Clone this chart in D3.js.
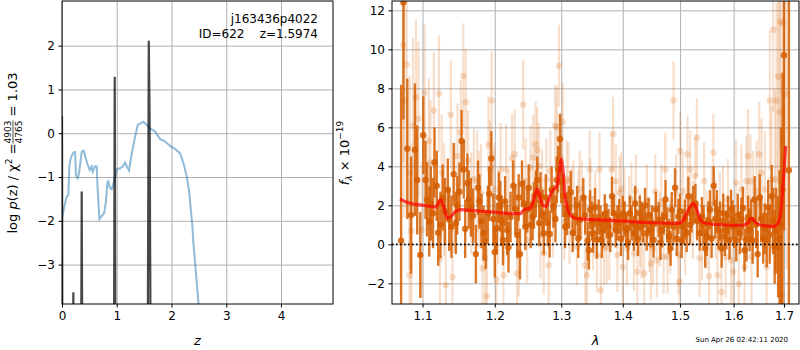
<!DOCTYPE html>
<html><head><meta charset="utf-8">
<script src="https://cdn.jsdelivr.net/npm/d3@7"></script>
<style>
body{margin:0;background:#fff}
text{font-family:"DejaVu Sans",sans-serif}
</style></head><body><div id="fig"></div>
<script>
// ---- left panel data: redshift pdf (black) and scaled chi2 curve (blue)
var pzZ   = [0, 0.012, 0.19, 0.207, 0.224, 0.34, 0.36, 0.38, 0.942, 0.963, 0.984, 1.55, 1.566, 1.585, 1.6, 1.618, 1.64, 1.66, 4.95]
var pzLog = [0.39, -9, -9, -3.63, -9, -9, -1.33, -9, -9, 1.29, -9, -9, -5, 2.11, 0.4, -5, -7, -9, -9]

var chiZ = [0, 0.006, 0.042, 0.085, 0.115, 0.134, 0.159, 0.207, 0.238, 0.256, 0.287, 0.311, 0.36, 0.397, 0.433, 0.47, 0.506, 0.543, 0.561, 0.603, 0.634, 0.652, 0.683, 0.726, 0.768, 0.799, 0.829, 0.847, 0.878, 0.909, 0.957, 1.006, 1.06, 1.11, 1.152, 1.183, 1.225, 1.274, 1.335, 1.384, 1.444, 1.486, 1.53, 1.609, 1.7, 1.79, 1.883, 1.975, 2.066, 2.157, 2.218, 2.279, 2.327, 2.353, 2.382, 2.4, 2.431, 2.462, 2.492, 2.52]
var chiVal = [-2.05, -1.9, -1.68, -1.45, -1.41, -0.76, -0.57, -0.44, -0.43, -0.97, -1.03, -0.91, -0.42, -0.40, -0.57, -0.72, -0.84, -0.76, -0.88, -0.75, -0.76, -1.29, -1.96, -1.89, -1.83, -1.6, -1.13, -1.1, -1.26, -1.28, -1.07, -0.82, -0.80, -0.76, -0.67, -0.76, -0.85, -0.46, -0.08, 0.19, 0.23, 0.26, 0.21, 0.11, 0.04, -0.13, -0.19, -0.29, -0.36, -0.46, -0.68, -0.99, -1.37, -1.75, -2.13, -2.51, -2.97, -3.42, -3.88, -4.3]

var zTicks = [0, 1, 2, 3, 4]
var pTicks = [-3, -2, -1, 0, 1, 2]

// ---- right panel data: [wavelength, flux, error]
var darkPts = [
[1.072,0.19,8.0],[1.075,12.4,6.0],[1.080,4.9,3.6],[1.085,1.5,3.0],[1.090,4.85,3.4],[1.093,3.3,2.8],
[1.097,-0.55,2.2],[1.101,5.6,2.0],[1.104,3.3,2.0],[1.106,2.3,1.9],[1.109,1.17,1.8],[1.111,2.1,1.9],
[1.114,1.6,1.8],[1.116,4.2,1.8],[1.119,3.0,1.8],[1.121,0.6,1.7],[1.124,1.0,1.7],[1.127,2.4,1.7],
[1.130,1.7,1.7],[1.134,2.8,1.6],[1.136,1.26,1.6],[1.139,0.9,1.6],[1.142,3.6,1.6],[1.145,1.1,1.6],
[1.147,2.0,1.5],[1.150,2.7,1.5],[1.153,5.3,1.6],[1.156,3.85,1.5],[1.158,0.8,1.5],[1.161,3.15,1.5],
[1.163,2.3,1.5],[1.166,1.9,1.5],[1.169,1.47,1.4],[1.173,-0.5,1.5],[1.176,2.9,1.4],[1.178,2.2,1.4],
[1.181,1.2,1.4],[1.184,0.57,1.4],[1.187,0.14,1.4],[1.190,1.6,1.4],[1.192,2.6,1.4],[1.195,4.4,1.4],
[1.198,1.3,1.3],[1.200,-0.4,1.3],[1.203,0.83,1.3],[1.206,2.4,1.3],[1.208,1.95,1.3],[1.210,1.2,1.3],
[1.212,0.22,1.3],[1.215,2.2,1.3],[1.218,0.74,1.3],[1.220,-0.15,1.3],[1.223,1.4,1.3],[1.227,3.0,1.3],
[1.230,1.8,1.3],[1.233,0.48,1.2],[1.235,2.4,1.2],[1.237,-0.5,1.3],[1.240,3.1,1.2],[1.243,2.1,1.2],
[1.245,0.9,1.2],[1.248,1.8,1.2],[1.250,2.9,1.2],[1.253,1.0,1.2],[1.256,1.4,1.2],[1.258,2.0,1.2],
[1.261,2.6,1.2],[1.263,3.3,1.2],[1.266,1.1,1.2],[1.268,2.5,1.2],[1.271,1.6,1.2],[1.273,0.57,1.1],
[1.276,2.4,1.2],[1.279,1.1,1.2],[1.282,0.53,1.2],[1.285,2.8,1.2],[1.288,1.95,1.1],[1.291,1.3,1.2],
[1.293,3.3,1.2],[1.295,3.85,1.2],[1.298,5.4,1.3],[1.300,3.2,1.1],[1.303,2.5,1.1],[1.306,0.9,1.1],
[1.309,1.57,1.1],[1.312,1.9,1.1],[1.315,2.67,1.1],[1.318,0.6,1.0],[1.322,1.43,1.0],[1.325,2.0,1.0],
[1.327,0.3,1.0],[1.330,1.26,1.0],[1.335,2.4,1.0],[1.338,1.5,1.0],[1.342,0.17,1.0],[1.344,-0.3,1.0],
[1.346,1.78,1.0],[1.349,1.2,1.0],[1.351,0.57,1.0],[1.354,1.9,1.0],[1.357,0.26,1.0],[1.360,1.4,0.9],
[1.363,1.09,0.9],[1.365,0.2,0.9],[1.367,0.74,0.9],[1.370,1.57,1.0],[1.373,1.2,0.9],[1.376,0.91,0.9],
[1.379,0.5,0.9],[1.382,2.47,1.0],[1.385,1.6,0.9],[1.388,0.74,0.9],[1.391,1.1,0.9],[1.394,1.43,0.9],
[1.397,0.3,0.9],[1.400,1.6,0.9],[1.403,1.3,0.9],[1.406,0.74,0.9],[1.409,0.1,0.9],[1.412,1.6,0.9],
[1.415,1.1,0.9],[1.419,0.57,0.9],[1.421,2.1,0.9],[1.423,0.91,0.9],[1.426,0.3,0.9],[1.429,1.6,0.9],
[1.432,1.3,0.9],[1.435,1.0,0.9],[1.438,2.0,0.9],[1.441,0.57,0.9],[1.444,1.5,0.9],[1.448,0.74,0.9],
[1.450,1.1,0.9],[1.453,0.22,0.9],[1.457,1.8,0.9],[1.462,1.26,0.9],[1.465,0.1,0.9],[1.468,0.74,0.9],
[1.471,1.4,0.9],[1.474,2.3,1.0],[1.477,1.0,0.9],[1.480,0.4,0.9],[1.483,-0.2,0.9],[1.485,1.78,0.9],
[1.488,0.9,0.9],[1.491,2.9,1.0],[1.494,0.3,0.9],[1.497,1.43,0.9],[1.500,1.7,0.9],[1.503,0.2,0.9],
[1.506,0.91,0.9],[1.509,1.3,1.0],[1.512,0.6,1.0],[1.515,2.47,1.0],[1.518,1.0,1.0],[1.521,1.6,1.0],
[1.524,2.0,1.0],[1.528,2.1,1.0],[1.531,1.2,1.0],[1.536,0.57,0.9],[1.540,1.43,1.0],[1.543,1.0,1.0],
[1.546,-0.2,1.0],[1.549,0.4,1.0],[1.552,1.2,1.0],[1.555,1.78,1.0],[1.558,0.3,1.0],[1.562,3.0,1.0],
[1.565,1.3,1.0],[1.568,1.78,1.0],[1.571,0.74,1.0],[1.574,1.2,1.0],[1.577,-0.2,1.0],[1.580,1.6,1.0],
[1.583,0.4,1.0],[1.586,0.74,1.0],[1.589,1.5,1.0],[1.592,0.22,1.0],[1.595,1.8,1.0],[1.598,1.26,1.0],
[1.601,0.9,1.1],[1.605,0.22,1.1],[1.608,1.5,1.1],[1.612,0.6,1.1],[1.615,1.3,1.1],[1.618,1.86,1.1],
[1.621,-0.3,1.1],[1.625,0.22,1.1],[1.628,1.4,1.1],[1.631,0.74,1.1],[1.634,1.2,1.1],[1.637,0.2,1.2],
[1.641,2.3,1.2],[1.644,1.0,1.2],[1.647,-0.5,1.2],[1.651,2.4,1.2],[1.654,1.3,1.2],[1.658,0.31,1.3],
[1.661,0.8,1.3],[1.665,0.22,1.4],[1.668,1.9,1.4],[1.671,0.5,1.5],[1.675,2.47,1.6],[1.678,1.2,1.7],
[1.681,-0.12,1.9],[1.684,0.7,2.2],[1.688,-0.12,2.6],[1.691,0.3,3.5],[1.694,1.0,5.0],[1.697,2.8,6.0],
[1.700,9.7,9.0],[1.710,3.8,10.0]
]

var lightPts = [
[1.0748,10.22,6],[1.0793,9.22,5.5],[1.0761,7.38,6],[1.083,3.67,5],[1.0853,0.69,4.5],[1.083,-1.59,5],
[1.0876,6.09,4.5],[1.0913,7.55,4],[1.0945,6.43,4],[1.0991,0.74,3.5],[1.1028,7.78,3.5],[1.1083,5.31,3.2],
[1.1106,4.19,3.2],[1.1151,6.86,3],[1.122,7.72,3],[1.1234,-0.72,3],[1.1257,3.67,3],[1.1289,2.29,2.9],
[1.1312,-2.1,2.9],[1.1381,6.64,2.8],[1.1404,-1.67,2.8],[1.1436,2.38,2.8],[1.1473,4.53,2.7],[1.1519,5.74,2.7],
[1.1555,8.64,2.7],[1.1588,7.29,2.7],[1.162,4.28,2.6],[1.1666,2.12,2.6],[1.1702,3.33,2.6],[1.1748,3.24,2.6],
[1.1771,2.29,2.5],[1.1803,2.64,2.5],[1.1826,-1.24,2.5],[1.1863,-0.72,2.5],[1.1886,-2.66,2.5],[1.1909,5.1,2.5],
[1.1932,3.84,2.5],[1.1955,7.38,2.5],[1.1977,2.47,2.4],[1.1996,2.81,2.4],[1.2025,-1.81,2.4],[1.205,1.4,2.4],
[1.2086,3.84,2.4],[1.2126,-1.59,2.4],[1.2166,3.84,2.3],[1.2201,1.52,2.3],[1.2252,4.41,2.3],[1.2292,4.62,2.3],
[1.2327,-1.5,2.3],[1.2352,-0.38,2.3],[1.2418,7.17,2.3],[1.2453,3.24,2.2],[1.2478,0.22,2.2],[1.2528,3.93,2.2],
[1.2569,4.45,2.2],[1.2604,5.14,2.2],[1.2629,4.83,2.2],[1.2654,4.02,2.2],[1.2679,0.48,2.2],[1.2704,2.78,2.1],
[1.2729,-0.47,2.1],[1.277,3.33,2.1],[1.2805,-1.07,2.1],[1.283,3.76,2.1],[1.287,1.43,2.1],[1.2905,6.09,2.1],
[1.2931,6.0,2.1],[1.2965,9.16,2.1],[1.299,4.45,2.1],[1.3022,6.29,2.0],[1.3048,1.17,2.0],[1.3086,3.33,2.0],
[1.3113,3.24,2.0],[1.3129,1.0,2.0],[1.3167,1.95,2.0],[1.3194,2.29,2.0],[1.3248,-0.12,2.0],[1.3274,1.86,2.0],
[1.329,2.81,2.0],[1.3328,2.29,2.0],[1.3382,-1.07,2.0],[1.3409,-1.59,2.0],[1.3452,3.84,2.0],[1.3463,2.38,2.0],
[1.3506,0.57,1.9],[1.3543,1.86,1.9],[1.357,-0.55,1.9],[1.3613,3.84,1.9],[1.3635,-2.36,1.9],[1.3689,-0.21,1.9],
[1.3732,-0.12,1.9],[1.3775,0.05,1.9],[1.3812,3.84,1.9],[1.3839,5.66,1.9],[1.3882,3.24,1.9],[1.3909,-0.55,1.9],
[1.3946,2.64,1.9],[1.3973,2.84,1.9],[1.4,-1.16,1.9],[1.4029,2.03,1.9],[1.4071,-0.21,1.9],[1.4106,1.6,1.9],
[1.4147,2.29,1.9],[1.4188,-0.47,1.9],[1.4223,2.72,1.9],[1.4247,-1.41,1.9],[1.4294,0.74,1.9],[1.4323,0.14,1.9],
[1.4365,-1.5,1.9],[1.4412,2.21,1.9],[1.4459,0.48,1.9],[1.4482,-0.98,1.9],[1.4517,-0.21,1.9],[1.4559,2.72,1.9],
[1.4588,-0.81,1.9],[1.4635,0.74,1.9],[1.4664,2.21,1.9],[1.4706,-0.64,1.9],[1.4735,3.84,1.9],[1.4776,-0.64,1.9],
[1.4824,0.4,1.9],[1.4882,7.38,2.0],[1.4929,2.64,2.0],[1.4971,-0.55,2.0],[1.4988,-1.93,2.0],[1.5,4.79,2.0],
[1.5049,2.72,2.0],[1.5092,0.4,2.0],[1.5135,4.62,2.0],[1.5184,3.84,2.0],[1.5233,1.26,2.0],[1.5276,3.5,2.0],
[1.5307,5.48,2.0],[1.5356,-0.72,2.0],[1.5399,0.14,2.0],[1.5441,3.24,2.0],[1.549,0.74,2.0],[1.5533,-1.64,2.0],
[1.5582,2.03,2.0],[1.5613,4.71,2.0],[1.5656,1.26,2.0],[1.5693,-1.59,2.1],[1.5736,1.6,2.1],[1.5766,-2.45,2.1],
[1.5797,1.95,2.1],[1.5846,-0.64,2.1],[1.589,2.29,2.1],[1.5951,-0.81,2.2],[1.5994,-1.41,2.2],[1.6047,3.16,2.2],
[1.61,-2.02,2.2],[1.6147,2.81,2.3],[1.6213,-1.16,2.3],[1.6247,3.24,2.3],[1.628,4.53,2.4],[1.6327,3.24,2.4],
[1.6347,-0.64,2.4],[1.638,2.29,2.5],[1.6447,2.72,2.6],[1.65,4.62,2.7],[1.6547,3.67,2.8],[1.6614,2.81,3.0],
[1.6647,-1.16,3.2],[1.6714,7.38,3.6],[1.6747,3.33,3.8],[1.678,11.0,4.2],[1.6814,3.33,4.6],[1.6847,7.38,5],
[1.688,8.59,5.5],[1.6914,6.78,6],[1.6927,11.43,6.5],[1.696,-2.62,7],[1.698,11.34,8],[1.7049,7.72,9]
]

var modelWave = [1.0706, 1.0761, 1.0876, 1.1014, 1.1106, 1.1174, 1.1207, 1.1243, 1.1289, 1.1335, 1.1381, 1.145, 1.1519, 1.1656, 1.184, 1.2025, 1.2226, 1.2377, 1.2428, 1.2528, 1.2579, 1.2629, 1.2669, 1.2714, 1.277, 1.2805, 1.2855, 1.293, 1.297, 1.3, 1.3032, 1.3059, 1.3097, 1.314, 1.3221, 1.3355, 1.357, 1.3839, 1.4118, 1.4412, 1.4706, 1.4971, 1.5061, 1.5153, 1.5245, 1.5307, 1.5368, 1.546, 1.5613, 1.592, 1.618, 1.628, 1.6347, 1.6414, 1.6514, 1.6647, 1.678, 1.688, 1.6947, 1.6993, 1.7035]
var modelFlux = [2.33, 2.21, 2.07, 2.0, 1.95, 1.91, 2.07, 2.29, 1.86, 1.34, 1.43, 1.69, 1.78, 1.74, 1.69, 1.64, 1.57, 1.57, 1.78, 1.86, 2.29, 2.84, 2.47, 2.0, 1.95, 2.29, 2.72, 2.98, 3.67, 4.36, 3.67, 2.47, 1.86, 1.52, 1.34, 1.29, 1.26, 1.22, 1.17, 1.12, 1.09, 1.07, 1.26, 1.78, 2.09, 1.78, 1.26, 1.09, 1.03, 0.98, 0.97, 1.12, 1.34, 1.17, 1.0, 0.95, 0.91, 1.09, 1.95, 3.5, 5.05]

var wTicks = [1.1, 1.2, 1.3, 1.4, 1.5, 1.6, 1.7]
var fTicks = [-2, 0, 2, 4, 6, 8, 10, 12]

var grismColor = "#d55e00"

// ---- figure
var svg = d3.select("#fig").append("svg")
  .attr("width", 800).attr("height", 350)

var L = {x0: 62, x1: 333, y0: 1, y1: 304}
var R = {x0: 392, x1: 799, y0: 1, y1: 304}

var defs = svg.append("defs")
defs.append("clipPath").attr("id", "clipL").append("rect")
  .attr("x", L.x0).attr("y", L.y0).attr("width", L.x1 - L.x0).attr("height", L.y1 - L.y0)
defs.append("clipPath").attr("id", "clipR").append("rect")
  .attr("x", R.x0).attr("y", R.y0).attr("width", R.x1 - R.x0).attr("height", R.y1 - R.y0)

// grey grid from the tick positions
function grid(xs, ys, xt, yt, box){
  var gx = svg.append("g")
    .attr("transform", "translate(0," + box.y1 + ")")
    .call(d3.axisBottom(xs).tickValues(xt).tickSize(-(box.y1 - box.y0)).tickFormat(""))
  var gy = svg.append("g")
    .attr("transform", "translate(" + box.x0 + ",0)")
    .call(d3.axisLeft(ys).tickValues(yt).tickSize(-(box.x1 - box.x0)).tickFormat(""))
  ;[gx, gy].forEach(g => {
    g.select(".domain").remove()
    g.selectAll("line").attr("stroke", "#b0b0b0").attr("stroke-width", 1)
  })
}

function axes(xs, ys, xt, yt, box, xfmt, yfmt){
  var ax = svg.append("g")
    .attr("transform", "translate(0," + box.y1 + ")")
    .call(d3.axisBottom(xs).tickValues(xt).tickSize(3.5).tickPadding(3.5).tickFormat(xfmt))
  var ay = svg.append("g")
    .attr("transform", "translate(" + box.x0 + ",0)")
    .call(d3.axisLeft(ys).tickValues(yt).tickSize(3.5).tickPadding(3.5).tickFormat(yfmt))
  ;[ax, ay].forEach(a => {
    a.select(".domain").remove()
    a.selectAll("text").attr("font-size", 12).attr("font-family", "DejaVu Sans").attr("fill", "#000")
  })
  svg.append("rect")
    .attr("x", box.x0).attr("y", box.y0)
    .attr("width", box.x1 - box.x0).attr("height", box.y1 - box.y0)
    .attr("fill", "none").attr("stroke", "#000").attr("stroke-width", 1)
}

// ---- left panel
var xz = d3.scaleLinear().domain([0, 4.95]).range([L.x0, L.x1])
var yp = d3.scaleLinear().domain([-3.9, 3.02]).range([L.y1, L.y0])

grid(xz, yp, zTicks, pTicks, L)

var gl = svg.append("g").attr("clip-path", "url(#clipL)")
var lineL = d3.line().x(d => xz(d[0])).y(d => yp(d[1]))

gl.append("path")
  .attr("d", lineL(d3.zip(chiZ, chiVal)))
  .attr("fill", "none").attr("stroke", "#1f77b4").attr("stroke-opacity", 0.5)
  .attr("stroke-width", 2)

gl.append("path")
  .attr("d", lineL(d3.zip(pzZ, pzLog)))
  .attr("fill", "none")
  .attr("stroke", "#000").attr("stroke-opacity", 0.72)
  .attr("stroke-width", 2.2).attr("stroke-linejoin", "miter")

axes(xz, yp, zTicks, pTicks, L, d3.format("d"), d3.format("d"))

svg.append("text").attr("x", 318).attr("y", 23).attr("text-anchor", "end")
  .attr("font-size", 12).text("j163436p4022")
svg.append("text").attr("x", 318).attr("y", 38).attr("text-anchor", "end")
  .attr("font-size", 12).attr("xml:space", "preserve").text("ID=622    z=1.5974")

svg.append("text").attr("x", (L.x0 + L.x1) / 2).attr("y", 345).attr("text-anchor", "middle")
  .attr("font-size", 13).attr("font-style", "italic").text("z")

// y label with fraction
var ylab = svg.append("g").attr("transform", "translate(17,153) rotate(-90)")
var part1 = ylab.append("text").attr("font-size", 13)
part1.append("tspan").text("log ")
part1.append("tspan").attr("font-style", "italic").text("p")
part1.append("tspan").text("(z) / χ")
part1.append("tspan").attr("font-size", 9).attr("dy", -5).text("2")
part1.append("tspan").attr("dy", 5).text(" = ")
var w1 = part1.node().getComputedTextLength()
var num = ylab.append("text").attr("font-size", 9).attr("text-anchor", "middle").text("4903")
var den = ylab.append("text").attr("font-size", 9).attr("text-anchor", "middle").text("4765")
var wf = Math.max(num.node().getComputedTextLength(), den.node().getComputedTextLength())
var part2 = ylab.append("text").attr("font-size", 13).attr("xml:space", "preserve").text(" = 1.03")
var w2 = part2.node().getComputedTextLength()
var tot = w1 + wf + w2
var x0 = -tot / 2
part1.attr("x", x0).attr("y", 0)
num.attr("x", x0 + w1 + wf / 2).attr("y", -6)
den.attr("x", x0 + w1 + wf / 2).attr("y", 5)
ylab.append("line").attr("x1", x0 + w1).attr("x2", x0 + w1 + wf)
  .attr("y1", -4).attr("y2", -4).attr("stroke", "#000").attr("stroke-width", 0.7)
part2.attr("x", x0 + w1 + wf).attr("y", 0)

// ---- right panel
var xw = d3.scaleLog().domain([1.0603, 1.731]).range([R.x0, R.x1])
var yf = d3.scaleLinear().domain([-3.06, 12.48]).range([R.y1, R.y0])

grid(xw, yf, wTicks, fTicks, R)

var gr = svg.append("g").attr("clip-path", "url(#clipR)")

function errPoints(g, pts, op, barW, r){
  g.selectAll("line").data(pts).enter().append("line")
    .attr("x1", d => xw(d[0])).attr("x2", d => xw(d[0]))
    .attr("y1", d => yf(d[1] - d[2])).attr("y2", d => yf(d[1] + d[2]))
    .attr("stroke", grismColor).attr("stroke-opacity", op).attr("stroke-width", barW)
  g.selectAll("circle").data(pts).enter().append("circle")
    .attr("cx", d => xw(d[0])).attr("cy", d => yf(d[1])).attr("r", r)
    .attr("fill", grismColor).attr("fill-opacity", op)
}

errPoints(gr.append("g"), lightPts, 0.2, 2.2, 3.3)
errPoints(gr.append("g"), darkPts, 0.85, 2.4, 3.2)

gr.append("path")
  .attr("d", d3.line().x(d => xw(d[0])).y(d => yf(d[1])).curve(d3.curveMonotoneX)(d3.zip(modelWave, modelFlux)))
  .attr("fill", "none").attr("stroke", "#ff0000").attr("stroke-opacity", 0.7)
  .attr("stroke-width", 3.2)

gr.append("line")
  .attr("x1", R.x0).attr("x2", R.x1).attr("y1", yf(0)).attr("y2", yf(0))
  .attr("stroke", "#000").attr("stroke-width", 1.6).attr("stroke-dasharray", "1.6,2.4")

axes(xw, yf, wTicks, fTicks, R, d3.format(".1f"), d3.format("d"))

svg.append("text").attr("x", (R.x0 + R.x1) / 2).attr("y", 345).attr("text-anchor", "middle")
  .attr("font-size", 13).attr("font-style", "italic").text("λ")

var fl = svg.append("text").attr("font-size", 13).attr("text-anchor", "middle")
  .attr("transform", "translate(349,153) rotate(-90)")
fl.append("tspan").attr("font-style", "italic").text("f")
fl.append("tspan").attr("font-style", "italic").attr("font-size", 9).attr("dy", 3).text("λ")
fl.append("tspan").attr("dy", -3).text(" × 10")
fl.append("tspan").attr("font-size", 9).attr("dy", -6).text("−19")

svg.append("text").attr("x", 788).attr("y", 342).attr("text-anchor", "end")
  .attr("font-size", 7).text("Sun Apr 26 02:42:11 2020")
</script>
</body></html>
